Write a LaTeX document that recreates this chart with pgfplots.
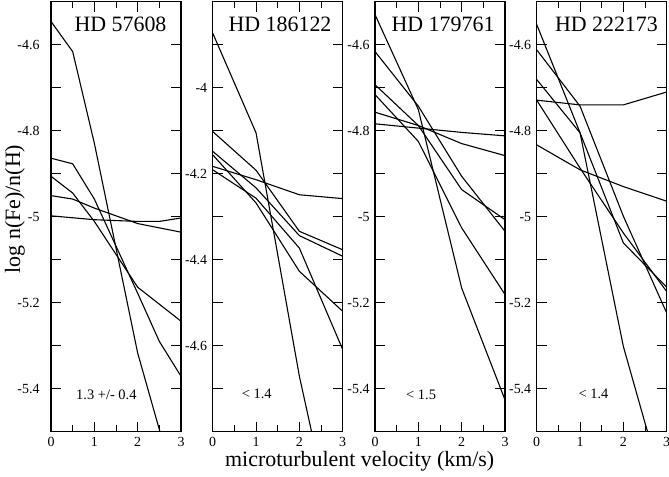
\documentclass[border=0pt]{standalone}
\usepackage{fontspec}
\setmainfont{Liberation Serif}
\usepackage{pgfplots}
\pgfplotsset{compat=1.18}
\tikzset{
 ttl/.style={anchor=base east, font=\fontsize{22}{22}\selectfont},
 ann/.style={anchor=base west, font=\fontsize{14.5}{14.5}\selectfont},
}
\begin{document}
\begin{tikzpicture}[x=1bp,y=1bp]
\useasboundingbox (0,0) rectangle (669,477);
\pgfplotsset{
 panel/.style={
  scale only axis, width=130bp, height=430bp,
  anchor=south west,
  xmin=0,xmax=3,
  xtick={0,1,2,3}, xticklabels={0,1,2,3},
  minor xtick={0.5,1.5,2.5},
  major tick length=10bp, minor tick length=6.5bp,
  tick style={line width=1bp, black},
  axis line style={line width=1.3bp},
  ticklabel style={font=\fontsize{14}{14}\selectfont},
  xticklabel style={yshift=-2.5bp},
  cycle list={{black,solid},{black,solid}},
  every axis plot post/.append style={black, solid, line width=1.1bp, mark=none},
  clip=true,
 },
 lowrange/.style={ymin=-5.5,ymax=-4.5,
  ytick={-5.5,-5.4,-5.3,-5.2,-5.1,-5,-4.9,-4.8,-4.7,-4.6,-4.5},
  yticklabels={,-5.4,,-5.2,,-5,,-4.8,,-4.6,}},
 highrange/.style={ymin=-4.8,ymax=-3.8,
  ytick={-4.8,-4.7,-4.6,-4.5,-4.4,-4.3,-4.2,-4.1,-4,-3.9,-3.8},
  yticklabels={,,-4.6,,-4.4,,-4.2,,-4,,}},
}
% Panel 1: HD 57608
\begin{axis}[panel, lowrange, at={(51bp,45.3bp)}, yticklabel style={xshift=-8bp}]
\addplot coordinates {(0,-4.546) (0.5,-4.616) (1,-4.829) (2,-5.317) (2.5,-5.495) (3,-5.658)};
\addplot coordinates {(0,-4.864) (0.5,-4.877) (1,-4.959) (2,-5.178) (2.5,-5.290) (3,-5.371)};
\addplot coordinates {(0,-4.906) (0.5,-4.945) (1,-5.011) (2,-5.164) (3,-5.243)};
\addplot coordinates {(0,-4.951) (0.5,-4.959) (1,-4.980) (2,-5.016) (3,-5.036)};
\addplot coordinates {(0,-4.998) (1,-5.007) (2,-5.011) (2.5,-5.011) (3,-5.003)};
\node[ttl, xshift=-11bp, yshift=-30.3bp] at (rel axis cs:1,1) {HD 57608};
\node[ann, xshift=21.7bp, yshift=32.4bp] at (rel axis cs:0,0) {1.3 +/- 0.4};
\end{axis}
% Panel 2: HD 186122
\begin{axis}[panel, highrange, at={(212.7bp,45.3bp)}, yticklabel style={xshift=-2bp}]
\addplot coordinates {(0,-3.873) (1,-4.105) (2,-4.671) (2.5,-4.90) (3,-5.13)};
\addplot coordinates {(0,-4.102) (1,-4.192) (2,-4.334) (3,-4.377)};
\addplot coordinates {(0,-4.148) (1,-4.233) (2,-4.344) (3,-4.392)};
\addplot coordinates {(0,-4.156) (1,-4.268) (2,-4.427) (3,-4.520)};
\addplot coordinates {(0,-4.191) (1,-4.257) (2,-4.373) (3,-4.609)};
\addplot coordinates {(0,-4.183) (1,-4.214) (2,-4.249) (3,-4.258)};
\node[ttl, xshift=-7.7bp, yshift=-30.3bp] at (rel axis cs:1,1) {HD 186122};
\node[ann, xshift=25.6bp, yshift=33.4bp] at (rel axis cs:0,0) {< 1.4};
\end{axis}
% Panel 3: HD 179761
\begin{axis}[panel, lowrange, at={(375bp,45.3bp)}, yticklabel style={xshift=-2bp}]
\addplot coordinates {(0,-4.530) (1,-4.751) (2,-5.166) (3,-5.426)};
\addplot coordinates {(0,-4.616) (1,-4.743) (2,-4.906) (3,-5.034)};
\addplot coordinates {(0,-4.693) (1,-4.788) (2,-4.937) (3,-5.007)};
\addplot coordinates {(0,-4.716) (1,-4.825) (2,-5.026) (3,-5.181)};
\addplot coordinates {(0,-4.757) (1,-4.788) (2,-4.830) (3,-4.858)};
\addplot coordinates {(0,-4.784) (1,-4.794) (2,-4.804) (3,-4.812)};
\node[ttl, xshift=-7bp, yshift=-30.3bp] at (rel axis cs:1,1) {HD 179761};
\node[ann, xshift=27.7bp, yshift=32.4bp] at (rel axis cs:0,0) {< 1.5};
\end{axis}
% Panel 4: HD 222173
\begin{axis}[panel, lowrange, at={(536.7bp,45.3bp)}, yticklabel style={xshift=-2bp}]
\addplot coordinates {(0,-4.553) (1,-4.805) (2,-5.302) (2.5,-5.48) (3,-5.65)};
\addplot coordinates {(0,-4.612) (1,-4.743) (2,-4.999) (3,-5.224)};
\addplot coordinates {(0,-4.681) (1,-4.805) (2,-5.061) (3,-5.164)};
\addplot coordinates {(0,-4.729) (1,-4.887) (2,-5.038) (3,-5.174)};
\addplot coordinates {(0,-4.729) (1,-4.740) (2,-4.740) (3,-4.710)};
\addplot coordinates {(0,-4.833) (1,-4.891) (2,-4.930) (3,-4.964)};
\node[ttl, xshift=-5.3bp, yshift=-30.3bp] at (rel axis cs:1,1) {HD 222173};
\node[ann, xshift=38.3bp, yshift=33bp] at (rel axis cs:0,0) {< 1.4};
\end{axis}
\node[rotate=90, font=\fontsize{22}{22}\selectfont] at (15,268) {log n(Fe)/n(H)};
\node[anchor=base, font=\fontsize{22}{22}\selectfont] at (359.7,10.3) {microturbulent velocity (km/s)};
\end{tikzpicture}
\end{document}
